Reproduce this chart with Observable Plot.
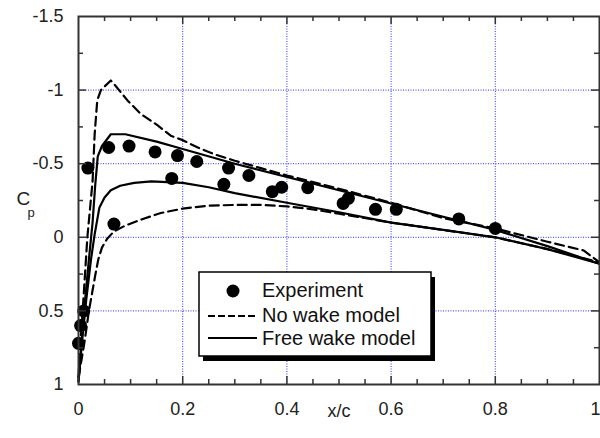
<!DOCTYPE html>
<html><head><meta charset="utf-8">
<script src="https://cdn.jsdelivr.net/npm/d3@7"></script>
<script src="https://cdn.jsdelivr.net/npm/@observablehq/plot@0.6"></script>
<style>
html,body{margin:0;padding:0;background:#fff;}
#chart{width:600px;height:438px;}
</style></head><body><div id="chart"></div>
<script>
// ---- data ----
const expX = [0, 0.004, 0.01, 0.018, 0.058, 0.068, 0.097, 0.147, 0.179, 0.19, 0.227, 0.279, 0.288, 0.327, 0.372, 0.39, 0.44, 0.508, 0.518, 0.57, 0.61, 0.73, 0.80];
const expY = [0.72, 0.6, 0.5, -0.47, -0.61, -0.09, -0.62, -0.58, -0.40, -0.555, -0.515, -0.36, -0.47, -0.42, -0.31, -0.34, -0.337, -0.23, -0.265, -0.19, -0.19, -0.125, -0.06];

const freeUpperX = [0, 0.005, 0.012, 0.02, 0.027, 0.032, 0.037, 0.045, 0.062, 0.09, 0.15, 0.2, 0.3, 0.4, 0.5, 0.6, 0.7, 0.8, 0.9, 1.0];
const freeUpperY = [0.98, 0.75, 0.45, 0.15, -0.1, -0.35, -0.55, -0.62, -0.70, -0.70, -0.65, -0.60, -0.50, -0.41, -0.32, -0.23, -0.14, -0.05, 0.06, 0.18];

const freeLowerX = [0, 0.007, 0.015, 0.024, 0.031, 0.036, 0.04, 0.05, 0.062, 0.08, 0.107, 0.14, 0.2, 0.25, 0.3, 0.4, 0.5, 0.6, 0.7, 0.8, 0.9, 1.0];
const freeLowerY = [0.98, 0.7, 0.42, 0.15, -0.02, -0.12, -0.2, -0.27, -0.32, -0.35, -0.37, -0.38, -0.37, -0.34, -0.30, -0.235, -0.17, -0.10, -0.05, 0.0, 0.08, 0.18];

const noUpperX = [0, 0.003, 0.008, 0.017, 0.027, 0.031, 0.036, 0.043, 0.062, 0.071, 0.094, 0.119, 0.152, 0.177, 0.2, 0.229, 0.26, 0.3, 0.35, 0.4, 0.5, 0.6, 0.7, 0.8, 0.9, 0.97, 1.0];
const noUpperY = [0.95, 0.75, 0.5, 0.0, -0.38, -0.7, -0.93, -1.0, -1.065, -1.03, -0.93, -0.84, -0.76, -0.69, -0.66, -0.61, -0.565, -0.52, -0.47, -0.42, -0.33, -0.235, -0.13, -0.06, 0.03, 0.09, 0.17];

const noLowerX = [0, 0.005, 0.012, 0.02, 0.026, 0.032, 0.038, 0.045, 0.055, 0.068, 0.09, 0.12, 0.158, 0.2, 0.25, 0.3, 0.35, 0.4, 0.45, 0.5, 0.6, 0.7, 0.8, 0.9, 1.0];
const noLowerY = [0.95, 0.85, 0.7, 0.5, 0.38, 0.26, 0.15, 0.07, 0.01, -0.04, -0.08, -0.12, -0.165, -0.195, -0.215, -0.22, -0.22, -0.21, -0.19, -0.16, -0.10, -0.05, 0.0, 0.08, 0.17];

const xTickLabels = [0, 0.2, 0.4, 0.6, 0.8];
const xTickLabelEnd = [1];
const yTickLabels = [-1.5, -1, -0.5, 0, 0.5, 1];
const xGrid = [0.2, 0.4, 0.6, 0.8];
const yGrid = [-1, -0.5, 0, 0.5];
const xMinor = [0.05, 0.1, 0.15, 0.25, 0.3, 0.35, 0.45, 0.5, 0.55, 0.65, 0.7, 0.75, 0.85, 0.9, 0.95];
const yMinor = [-1.25, -0.75, -0.25, 0.25, 0.75];
const legendLabels = ["Experiment", "No wake model", "Free wake model"];
const xLabel = "x/c";
const yLabelMain = "C";
const yLabelSub = "p";

// ---- layout ----
const W = 600, H = 438, mL = 78, mR = 1, mT = 16, mB = 54;
const innerW = W - mL - mR, innerH = H - mT - mB;
const rows = (xs, ys) => xs.map((x, i) => ({x, y: ys[i]}));
const gridColor = "#3030ff";
const frameColor = "#333";
const dash = "9,5";
const font = "'Liberation Sans', Arial, sans-serif";

const plot = Plot.plot({
  width: W, height: H,
  marginLeft: mL, marginRight: mR, marginTop: mT, marginBottom: mB,
  style: {fontFamily: font, fontSize: "18px", color: "#222", background: "#fff"},
  x: {domain: [0, 1], label: null},
  y: {domain: [-1.5, 1], reverse: true, label: null},
  marks: [
    Plot.gridX(xGrid, {stroke: gridColor, strokeOpacity: 1, strokeWidth: 1, strokeDasharray: "1,1.5"}),
    Plot.gridY(yGrid, {stroke: gridColor, strokeOpacity: 1, strokeWidth: 1, strokeDasharray: "1,1.5"}),
    Plot.line(rows(noUpperX, noUpperY), {x: "x", y: "y", stroke: "#000", strokeWidth: 2.2, strokeDasharray: dash}),
    Plot.line(rows(noLowerX, noLowerY), {x: "x", y: "y", stroke: "#000", strokeWidth: 2.2, strokeDasharray: dash}),
    Plot.line(rows(freeUpperX, freeUpperY), {x: "x", y: "y", stroke: "#000", strokeWidth: 2.2}),
    Plot.line(rows(freeLowerX, freeLowerY), {x: "x", y: "y", stroke: "#000", strokeWidth: 2.2}),
    Plot.dot(rows(expX, expY), {x: "x", y: "y", r: 6.5, fill: "#000", stroke: "none"}),
    // inward ticks
    Plot.tickX(xMinor, {stroke: frameColor, strokeWidth: 1.5, insetTop: innerH - 5}),
    Plot.tickX(xMinor, {stroke: frameColor, strokeWidth: 1.5, insetBottom: innerH - 5}),
    Plot.tickX(xGrid, {stroke: frameColor, strokeWidth: 1.5, insetTop: innerH - 8}),
    Plot.tickX(xGrid, {stroke: frameColor, strokeWidth: 1.5, insetBottom: innerH - 8}),
    Plot.tickY(yMinor, {stroke: frameColor, strokeWidth: 1.5, insetRight: innerW - 5}),
    Plot.tickY(yMinor, {stroke: frameColor, strokeWidth: 1.5, insetLeft: innerW - 5}),
    Plot.tickY(yGrid, {stroke: frameColor, strokeWidth: 1.5, insetRight: innerW - 8}),
    Plot.tickY(yGrid, {stroke: frameColor, strokeWidth: 1.5, insetLeft: innerW - 8}),
    Plot.frame({stroke: frameColor, strokeWidth: 2}),
    Plot.axisX(xTickLabels, {anchor: "bottom", tickSize: 0, tickPadding: 18, fontSize: 18, tickFormat: d => String(d), label: null}),
    Plot.axisX(xTickLabelEnd, {anchor: "bottom", tickSize: 0, tickPadding: 18, fontSize: 18, tickFormat: d => String(d), label: null, textAnchor: "end", dx: 1}),
    Plot.axisY(yTickLabels, {anchor: "left", tickSize: 0, tickPadding: 15, fontSize: 18, tickFormat: d => String(d), label: null}),
    Plot.text([xLabel], {text: d => d, frameAnchor: "bottom", dy: 32, fontSize: 18}),
    Plot.text([yLabelMain], {text: d => d, frameAnchor: "left", dx: -62, dy: -2, fontSize: 19}),
    Plot.text([yLabelSub], {text: d => d, frameAnchor: "left", dx: -51, dy: 12, fontSize: 13})
  ]
});
document.getElementById("chart").appendChild(plot);

// ---- legend (drawn into the same SVG) ----
const svg = d3.select(plot);
const lg = svg.append("g").attr("font-family", font).attr("font-size", 20).attr("fill", "#111").attr("text-anchor", "start");
const bx = 199, by = 272, bw = 232, bh = 84;
lg.append("rect").attr("x", bx + 4).attr("y", by + 5).attr("width", bw).attr("height", bh).attr("fill", "#000");
lg.append("rect").attr("x", bx).attr("y", by).attr("width", bw).attr("height", bh).attr("fill", "#fff").attr("stroke", "#000").attr("stroke-width", 1.5);
const rowY = [291, 316, 338];
const baseY = [297, 322, 345];
lg.append("circle").attr("cx", 233).attr("cy", rowY[0]).attr("r", 6.5).attr("fill", "#000");
lg.append("line").attr("x1", 208).attr("x2", 257).attr("y1", rowY[1]).attr("y2", rowY[1]).attr("stroke", "#000").attr("stroke-width", 2).attr("stroke-dasharray", "7,3");
lg.append("line").attr("x1", 208).attr("x2", 257).attr("y1", rowY[2]).attr("y2", rowY[2]).attr("stroke", "#000").attr("stroke-width", 2);
legendLabels.forEach((t, i) => {
  lg.append("text").attr("x", 262).attr("y", baseY[i]).attr("text-anchor", "start").text(t);
});
</script></body></html>
